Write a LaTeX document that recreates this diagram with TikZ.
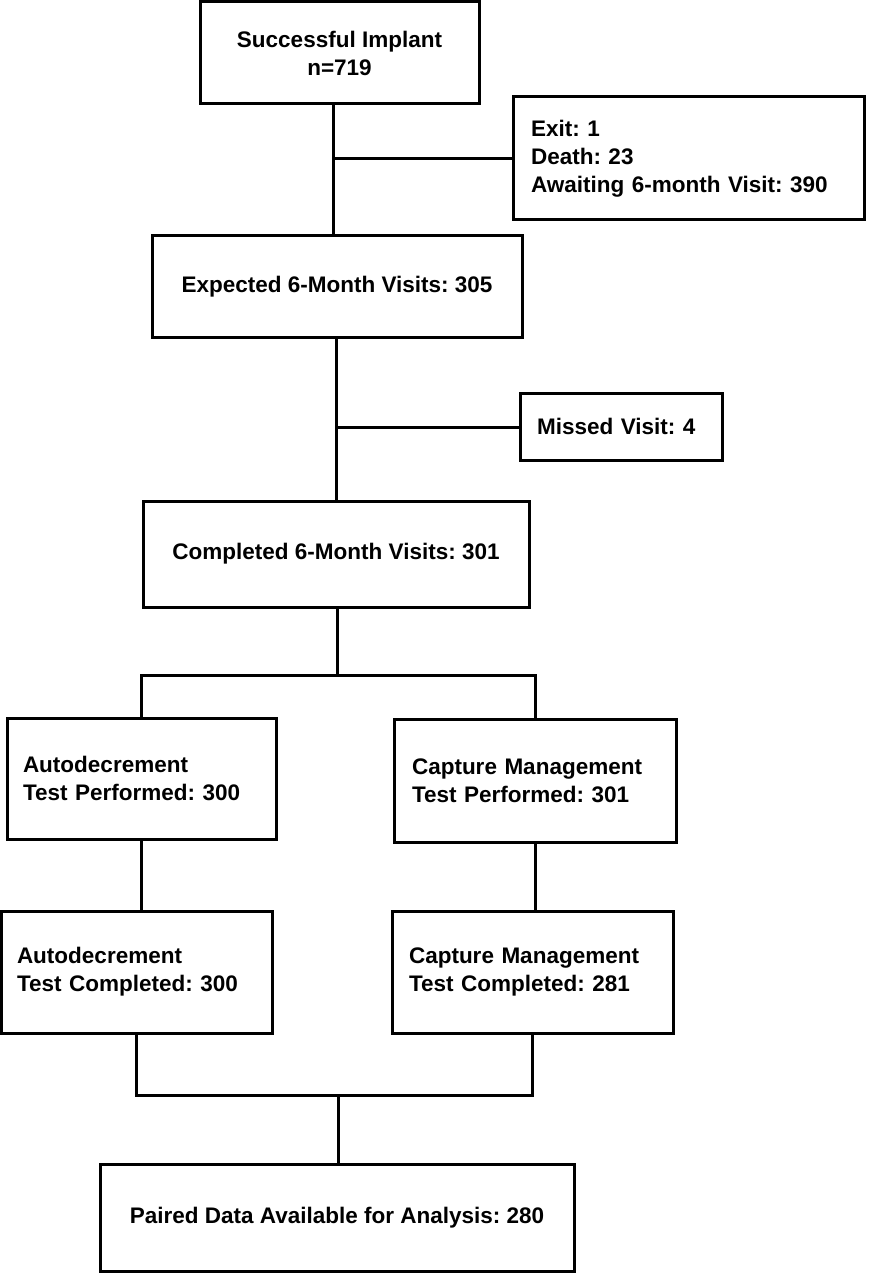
\documentclass[tikz,border=0pt]{standalone}
\usepackage{fontspec}
\setmainfont{Liberation Sans}
\frenchspacing
\begin{document}
\begin{tikzpicture}[x=1pt,y=-1pt,
  box/.style={draw=black, line width=3pt, inner sep=0pt, font=\frenchspacing\bfseries\fontsize{22.5}{28}\selectfont, align=center},
  lbox/.style={box, align=left},
  conn/.style={draw=black, line width=3pt}]
\useasboundingbox (0,0) rectangle (871,1273);
% boxes
\node[box, minimum width=279pt, minimum height=102pt] (b1) at (339.5,53) {Successful Implant\\n=719};
\node[lbox, minimum width=351pt, minimum height=123pt, inner xsep=18pt, text width=315pt] (b2) at (688.5,158.5) {Exit: 1\\Death: 23\\Awaiting 6-month Visit: 390};
\node[box, minimum width=370pt, minimum height=101pt] (b3) at (337,286.5) {Expected 6-Month Visits: 305};
\node[lbox, minimum width=202pt, minimum height=67pt, inner xsep=17pt, text width=168pt] (b4) at (621,426.5) {Missed Visit: 4};
\node[box, minimum width=386pt, minimum height=106pt] (b5) at (336,554) {Completed 6-Month Visits: 301};
\node[lbox, minimum width=269pt, minimum height=121pt, inner xsep=16pt, text width=237pt] (b6) at (141.5,778.5) {Autodecrement\\Test Performed: 300};
\node[lbox, minimum width=282pt, minimum height=123pt, inner xsep=18pt, text width=246pt] (b7) at (535,780.5) {Capture Management\\Test Performed: 301};
\node[lbox, minimum width=271pt, minimum height=122pt, inner xsep=16pt, text width=239pt] (b8) at (136.5,972) {Autodecrement\\Test Completed: 300};
\node[lbox, minimum width=281pt, minimum height=122pt, inner xsep=17pt, text width=247pt] (b9) at (532.5,972) {Capture Management\\Test Completed: 281};
\node[box, minimum width=474pt, minimum height=107pt] (b10) at (337,1217.5) {Paired Data Available for Analysis: 280};
% junctions
\coordinate (j1) at (333,159);
\coordinate (j2) at (336,427);
\coordinate (j3) at (337,675);
\coordinate (j4) at (338,1095);
% connectors
\draw[conn] (b1.south -| j1) -- (b3.north -| j1);
\draw[conn] (j1) -- (b2.west |- j1);
\draw[conn] (b3.south -| j2) -- (b5.north -| j2);
\draw[conn] (j2) -- (b4.west |- j2);
\draw[conn] (b5.south -| j3) -- (j3);
\draw[conn] (b6.north) -- (b6.north |- j3) -- (b7.north |- j3) -- (b7.north);
\draw[conn] (b6.south) -- (b6.south |- b8.north);
\draw[conn] (b7.south) -- (b7.south |- b9.north);
\draw[conn] (b8.south) -- (b8.south |- j4) -- (b9.south |- j4) -- (b9.south);
\draw[conn] (j4) -- (b10.north -| j4);
\end{tikzpicture}
\end{document}
